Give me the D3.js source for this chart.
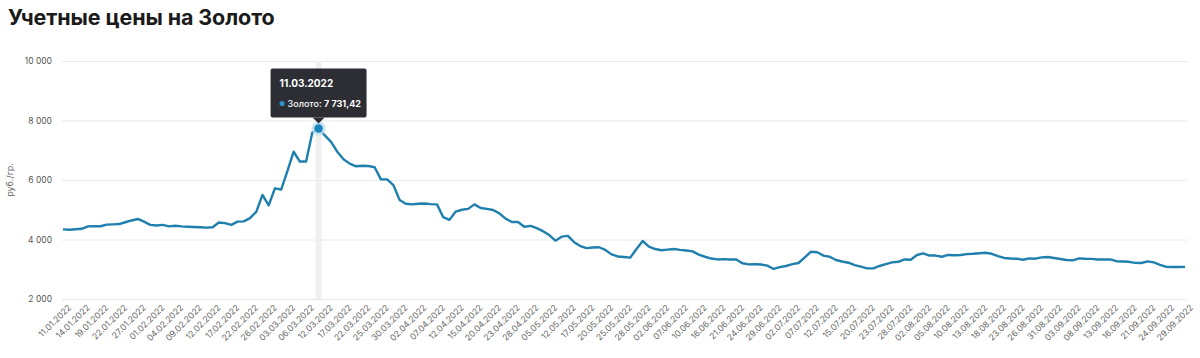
<!DOCTYPE html>
<html>
<head>
<meta charset="utf-8">
<script src="https://cdn.jsdelivr.net/npm/d3@7"></script>
<style>
  body { margin: 0; background: #fff; font-family: Inter, "Noto Sans", sans-serif; }
  svg { display: block; }
</style>
</head>
<body>
<svg width="1200" height="358"></svg>
<script>
// даты учетных цен (2022 год), значения в руб./гр.
const year = "2022";
const dates = [
  "11.01","12.01","13.01","14.01","15.01","18.01","19.01","20.01","21.01","22.01","25.01","26.01","27.01","28.01","29.01",
  "01.02","02.02","03.02","04.02","05.02","08.02","09.02","10.02","11.02","12.02","15.02","16.02","17.02","18.02","19.02","22.02","23.02","25.02","26.02",
  "01.03","02.03","03.03","04.03","05.03","06.03","10.03","11.03","12.03","15.03","16.03","17.03","18.03","19.03","22.03","23.03","24.03","25.03","26.03","29.03","30.03","31.03",
  "01.04","02.04","05.04","06.04","07.04","08.04","09.04","12.04","13.04","14.04","15.04","16.04","19.04","20.04","21.04","22.04","23.04","26.04","27.04","28.04","29.04","30.04",
  "05.05","06.05","07.05","12.05","13.05","14.05","17.05","18.05","19.05","20.05","21.05","24.05","25.05","26.05","27.05","28.05","31.05",
  "01.06","02.06","03.06","04.06","07.06","08.06","09.06","10.06","11.06","15.06","16.06","17.06","18.06","21.06","22.06","23.06","24.06","25.06","28.06","29.06","30.06",
  "01.07","02.07","05.07","06.07","07.07","08.07","09.07","12.07","13.07","14.07","15.07","16.07","19.07","20.07","21.07","22.07","23.07","26.07","27.07","28.07","29.07","30.07",
  "02.08","03.08","04.08","05.08","06.08","09.08","10.08","11.08","12.08","13.08","16.08","17.08","18.08","19.08","20.08","23.08","24.08","25.08","26.08","27.08","30.08","31.08",
  "01.09","02.09","03.09","06.09","07.09","08.09","09.09","10.09","13.09","14.09","15.09","16.09","17.09","20.09","21.09","22.09","23.09","24.09","27.09","28.09","29.09"
];

const gold = [
  4340,4330,4345,4360,4440,4450,4445,4500,4510,4520,4580,4640,4690,4600,4490,
  4470,4490,4440,4460,4440,4430,4420,4410,4400,4410,4570,4550,4490,4600,4610,4720,4930,5500,5150,
  5720,5680,6300,6950,6620,6620,7600,7731.42,7500,7280,6950,6700,6550,6460,6480,6470,6430,6020,6020,5830,5330,5200,
  5180,5200,5210,5190,5180,4750,4660,4940,5000,5030,5180,5060,5030,4990,4880,4700,4590,4590,4430,4460,4380,4280,
  4150,3960,4095,4120,3910,3780,3710,3730,3740,3650,3500,3430,3410,3390,3680,3950,3760,
  3680,3640,3660,3680,3650,3630,3600,3490,3420,3360,3330,3340,3330,3330,3200,3165,3170,3160,3120,3010,3070,
  3110,3170,3210,3400,3590,3570,3460,3420,3310,3260,3220,3140,3090,3030,3030,3110,3170,3230,3250,3330,3320,3480,
  3535,3460,3460,3420,3480,3470,3480,3510,3520,3540,3555,3520,3440,3380,3360,3355,3320,3365,3355,3400,3410,3380,
  3345,3310,3300,3365,3355,3350,3330,3330,3330,3270,3260,3250,3215,3210,3265,3230,3150,3080,3075,3075,3080
];

// подписи оси ОХ
const tickLabels = [
  "11.01","14.01","19.01","22.01","27.01","01.02","04.02","09.02","12.02","17.02","22.02","26.02",
  "03.03","06.03","12.03","17.03","22.03","25.03","30.03","02.04","07.04","12.04","15.04","20.04",
  "23.04","28.04","05.05","12.05","17.05","20.05","25.05","28.05","02.06","07.06","10.06","16.06",
  "21.06","24.06","29.06","02.07","07.07","12.07","15.07","20.07","23.07","28.07","02.08","05.08",
  "10.08","13.08","18.08","23.08","26.08","31.08","03.09","08.09","13.09","16.09","21.09","24.09","29.09"
];
const yTicks = [2000, 4000, 6000, 8000, 10000];
const hoverDate = "11.03";

const title = "Учетные цены на Золото";
const seriesName = "Золото";
const unit = "руб./гр.";
const lineColor = "#1f7fad";

const ru = d3.formatLocale({ decimal: ",", thousands: "\u00a0", grouping: [3], currency: ["", ""] });
const fmtInt = ru.format(",.0f");
const fmtVal = ru.format(",.2f");

let svg = d3.select("svg");

attr_area = { left: 63, right: 1185, top: 61, bottom: 299 };

// заголовок
svg.append("text")
  .attr("x", 8).attr("y", 25)
  .style("font-size", "21.5px").style("font-weight", 700).style("fill", "#1b1b1b")
  .style("letter-spacing", "-0.1px")
  .text(title);

const data = dates.map((d, i) => ({ date: d, value: gold[i] }));

let scX = d3.scalePoint()
  .domain(dates)
  .range([attr_area.left, attr_area.right]);

let scY = d3.scaleLinear()
  .domain([2000, 10000])
  .range([attr_area.bottom, attr_area.top]);

// сетка и ось OY
let gY = svg.append("g")
  .attr("transform", `translate(${attr_area.left - 1}, 0)`)
  .call(d3.axisLeft(scY).tickValues(yTicks).tickFormat(fmtInt)
        .tickSize(-(attr_area.right - attr_area.left + 3)).tickPadding(10));
gY.select(".domain").remove();
gY.selectAll(".tick line").attr("stroke", "#e8e8e8");
gY.selectAll(".tick text")
  .style("font-family", "Inter, sans-serif").style("font-size", "8.5px").style("fill", "#555");

svg.append("text")
  .attr("transform", `translate(13, ${(attr_area.top + attr_area.bottom) / 2}) rotate(-90)`)
  .attr("text-anchor", "middle")
  .style("font-size", "9px").style("fill", "#666")
  .text(unit);

// ось OX, подписи наклонные
let gX = svg.append("g")
  .attr("transform", `translate(0, ${attr_area.bottom})`)
  .call(d3.axisBottom(scX).tickValues(tickLabels).tickSize(0).tickFormat(d => d + "." + year));
gX.select(".domain").remove();
gX.selectAll("text")
  .style("text-anchor", "end")
  .style("font-family", "Inter, sans-serif").style("font-size", "8.6px").style("fill", "#666")
  .attr("dx", "0").attr("dy", ".5em")
  .attr("transform", "translate(3, 4) rotate(-45)");

// вертикальная полоса наведения
const hx = scX(hoverDate);
svg.append("line")
  .attr("x1", hx).attr("x2", hx)
  .attr("y1", attr_area.top).attr("y2", attr_area.bottom)
  .attr("stroke", "#f0f0f0").attr("stroke-width", 6);

// линия
svg.append("path")
  .datum(data)
  .attr("fill", "none")
  .attr("stroke", lineColor)
  .attr("stroke-width", 2.4)
  .attr("stroke-linejoin", "round")
  .attr("d", d3.line().x(d => scX(d.date)).y(d => scY(d.value)));

// точка
const hv = data.find(d => d.date === hoverDate);
const hy = scY(hv.value);
svg.append("circle").attr("cx", hx).attr("cy", hy).attr("r", 7).style("fill", "#bfe0f2").style("opacity", 0.8);
svg.append("circle").attr("cx", hx).attr("cy", hy).attr("r", 4.2).style("fill", "#1a84bd");

// подсказка
const tw = 96, th = 49;
let tip = svg.append("g").attr("transform", `translate(${hx - tw / 2}, ${hy - 60})`);
tip.append("rect").attr("width", tw).attr("height", th).attr("rx", 2).style("fill", "#2c2e33");
tip.append("path")
  .attr("d", `M${tw / 2 - 6},${th} L${tw / 2},${th + 6} L${tw / 2 + 6},${th} Z`)
  .style("fill", "#2c2e33");
tip.append("text").attr("x", 9).attr("y", 19)
  .style("font-size", "10px").style("font-weight", 700).style("fill", "#fff")
  .text(hv.date + "." + year);
tip.append("circle").attr("cx", 11.5).attr("cy", 35).attr("r", 2.6).style("fill", "#2a90c8");
let t2 = tip.append("text").attr("x", 17).attr("y", 38.5)
  .style("font-size", "9px").style("fill", "#fff");
t2.append("tspan").style("font-weight", 500).text(seriesName + ": ");
t2.append("tspan").style("font-weight", 700).text(fmtVal(hv.value));
</script>
</body>
</html>
